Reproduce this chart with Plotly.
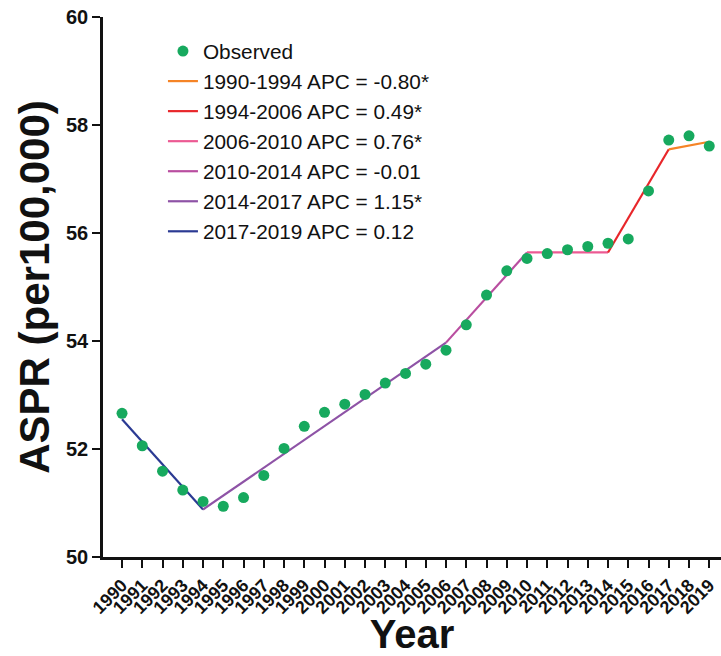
import plotly.graph_objects as go

years = list(range(1990, 2020))
observed = [52.66, 52.06, 51.59, 51.24, 51.03, 50.94, 51.10, 51.51, 52.01, 52.42,
            52.68, 52.83, 53.01, 53.22, 53.40, 53.57, 53.83, 54.30, 54.85, 55.30,
            55.53, 55.62, 55.69, 55.75, 55.81, 55.89, 56.78, 57.72, 57.80, 57.61]

join_years = [1990, 1994, 2006, 2010, 2014, 2017, 2019]
fit_values = [52.55, 50.88, 53.97, 55.64, 55.64, 57.55, 57.69]

legend_labels = ["1990-1994 APC = -0.80*", "1994-2006 APC = 0.49*", "2006-2010 APC = 0.76*",
                 "2010-2014 APC = -0.01", "2014-2017 APC = 1.15*", "2017-2019 APC = 0.12"]
legend_colors = ["#f58426", "#e8262a", "#ec5a93", "#b94ea0", "#8e53a6", "#2b3a93"]
# segment colours as drawn in the original (order reversed relative to legend)
segment_colors = ["#2b3a93", "#8e53a6", "#b94ea0", "#ec5a93", "#e8262a", "#f58426"]

FONT = "Arial, Liberation Sans, sans-serif"

fig = go.Figure()

# fitted segments (no legend)
for i in range(len(join_years) - 1):
    fig.add_trace(go.Scatter(
        x=join_years[i:i + 2], y=fit_values[i:i + 2], mode="lines",
        line=dict(color=segment_colors[i], width=2.2), showlegend=False,
        hoverinfo="skip"))

fig.add_trace(go.Scatter(
    x=years, y=observed, mode="markers", name="Observed",
    marker=dict(color="#17a95e", size=11), showlegend=True))

# legend entries
for lab, col in zip(legend_labels, legend_colors):
    fig.add_trace(go.Scatter(x=[None], y=[None], mode="lines", name=lab,
                             line=dict(color=col, width=2.2)))

fig.update_layout(
    width=721, height=656,
    margin=dict(l=103, r=0, t=17, b=99),
    plot_bgcolor="white", paper_bgcolor="white",
    font=dict(family=FONT, color="#111"),
    legend=dict(x=0.097, y=0.974, xanchor="left", yanchor="top",
                bgcolor="rgba(0,0,0,0)", font=dict(size=20.8, family=FONT, color="#111"),
                tracegroupgap=0),
    xaxis=dict(range=[1989.06, 2019.58], tickmode="array", tickvals=years,
               ticktext=[str(y) for y in years], tickangle=-45,
               tickfont=dict(size=18, family=FONT, weight="bold", color="#111"),
               showline=True, linecolor="#111", linewidth=2.5,
               ticks="outside", ticklen=8, tickwidth=2.2, tickcolor="#111",
               showgrid=False, zeroline=False,
               title=dict(text="<b>Year</b>", font=dict(size=40, family=FONT, color="#111"),
                          standoff=4)),
    yaxis=dict(range=[50, 60], tickmode="array", tickvals=[50, 52, 54, 56, 58, 60],
               tickfont=dict(size=20, family=FONT, weight="bold", color="#111"),
               showline=True, linecolor="#111", linewidth=2.5,
               ticks="outside", ticklen=8, tickwidth=2.2, tickcolor="#111",
               showgrid=False, zeroline=False,
               title=dict(text="<b>ASPR (per100,000)</b>",
                          font=dict(size=42, family=FONT, color="#111"), standoff=4)),
)

fig.write_html("out.html")
